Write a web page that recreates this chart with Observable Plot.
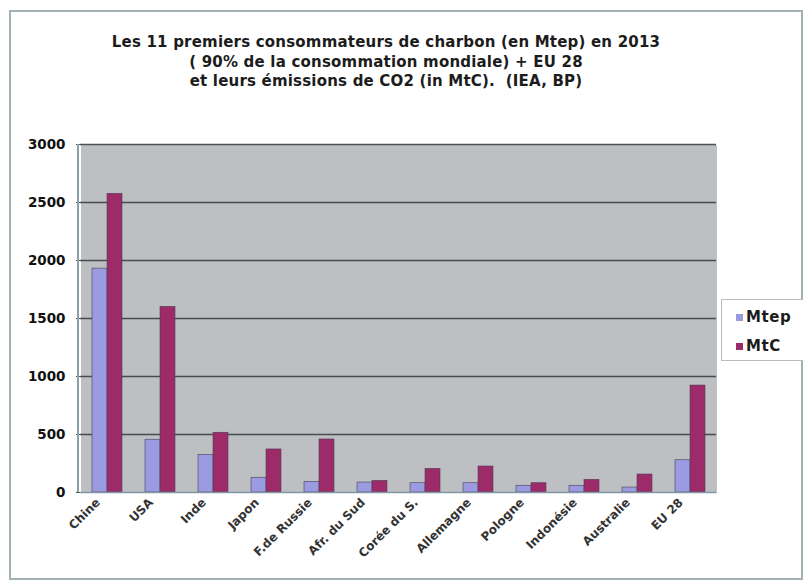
<!DOCTYPE html>
<html>
<head>
<meta charset="utf-8">
<script src="https://cdn.jsdelivr.net/npm/d3@7"></script>
<script src="https://cdn.jsdelivr.net/npm/@observablehq/plot@0.6"></script>
<style>
  html, body { margin: 0; padding: 0; background: #fff; }
  #page { position: relative; width: 803px; height: 583px; overflow: hidden; font-family: "DejaVu Sans", sans-serif; }
  #frame { position: absolute; left: 9px; top: 10px; width: 790px; height: 566px; border: 2px solid #a3b1b6; }
  #title { position: absolute; left: 0; width: 772px; top: 33px; text-align: center; font-weight: bold; font-size: 15px; line-height: 19.5px; color: #1c1c1c; letter-spacing: 0.2px; }
  #chart { position: absolute; left: 0; top: 130px; }
  #yline { position: absolute; left: 77px; top: 144px; width: 1.5px; height: 348px; background: #8aa0a8; }
  #legend { position: absolute; left: 721px; top: 299px; width: 90px; height: 60px; border: 1px solid #b3bcc0; background: #fff; }
  .item { position: absolute; left: 14px; font-weight: bold; font-size: 15px; color: #1c1c1c; line-height: 16px; letter-spacing: 0.6px; }
  .sw { display: inline-block; width: 7px; height: 7px; margin-right: 3px; vertical-align: 1px; }
</style>
</head>
<body>
<div id="page">
  <div id="frame"></div>
  <div id="title">Les 11 premiers consommateurs de charbon (en Mtep) en 2013<br>( 90% de la consommation mondiale) + EU 28<br>et leurs émissions de CO2 (in MtC).&nbsp; (IEA, BP)</div>
  <div id="chart"></div>
  <div id="yline"></div>
  <div id="legend"></div>
</div>
<script>
const categories = ["Chine", "USA", "Inde", "Japon", "F.de Russie", "Afr. du Sud", "Corée du S.", "Allemagne", "Pologne", "Indonésie", "Australie", "EU 28"];
const mtep = [1930, 455, 325, 127, 92, 86, 80, 80, 58, 58, 43, 278];
const mtc = [2575, 1600, 515, 371, 457, 100, 204, 224, 80, 109, 155, 922];
const series = ["Mtep", "MtC"];
const seriesColors = ["#9b9be2", "#9e2b69"];
const yTicks = [0, 500, 1000, 1500, 2000, 2500, 3000];

const data = [];
categories.forEach((c, i) => {
  data.push({country: c, series: "Mtep", value: mtep[i]});
  data.push({country: c, series: "MtC", value: mtc[i]});
});

const chart = Plot.plot({
  width: 803,
  height: 450,
  marginTop: 14,
  marginBottom: 88,
  marginLeft: 78,
  marginRight: 85,
  style: {fontFamily: "DejaVu Sans, sans-serif", background: "transparent"},
  fx: {domain: categories, padding: 0, label: null},
  x: {domain: series, paddingInner: 0, paddingOuter: 0.7, axis: null},
  y: {domain: [0, 3000], label: null},
  color: {domain: series, range: seriesColors},
  marks: [
    Plot.frame({fill: "#bebfc3", stroke: null, shapeRendering: "crispEdges"}),
    Plot.gridY(yTicks.filter(d => d > 0), {stroke: "#3a4043", strokeOpacity: 0.9, strokeWidth: 1.4}),
    Plot.barY(data, {fx: "country", x: "series", y: "value", fill: "series", stroke: "#4a3f55", strokeWidth: 0.6}),
    Plot.ruleY([0], {stroke: "#7f98a3", strokeWidth: 1.5}),
    Plot.axisY({ticks: yTicks, tickFormat: d => String(d), tickSize: 4, tickPadding: 11, fontSize: 13.5, fontWeight: "bold", fill: "#111", stroke: "#555", label: null}),
    Plot.axisFx({anchor: "bottom", tickRotate: -45, tickSize: 0, tickPadding: 8, dx: -9, fontSize: 12, fontWeight: "bold", fill: "#333", label: null})
  ]
});
document.getElementById("chart").appendChild(chart);

const legend = document.getElementById("legend");
series.forEach((s, i) => {
  const el = document.createElement("div");
  el.className = "item";
  el.style.top = (9 + i * 29) + "px";
  el.innerHTML = `<span class="sw" style="background:${seriesColors[i]}"></span>${s}`;
  legend.appendChild(el);
});
</script>
</body>
</html>
